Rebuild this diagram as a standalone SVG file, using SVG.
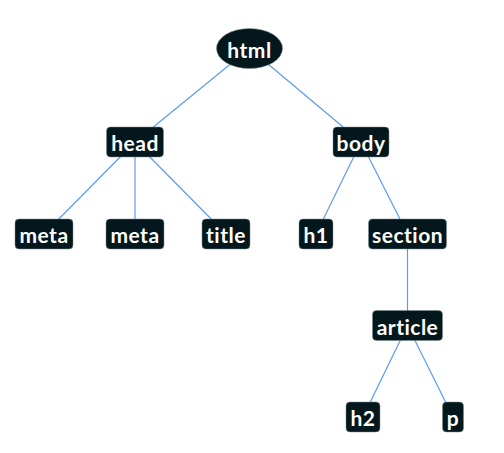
<svg xmlns="http://www.w3.org/2000/svg" width="504" height="453" viewBox="0 0 504 453">
<style>
.e{stroke:#5b9bf0;stroke-width:1.2;fill:none}
.n{fill:#03171c;stroke:#7a8a8e;stroke-width:0.5}
.t{fill:#ffffff;font-family:Lato,"Noto Sans",sans-serif;font-weight:bold;font-size:21px;letter-spacing:0.5px;font-variant-ligatures:none;text-anchor:middle;dominant-baseline:central}
</style>
<rect width="504" height="453" fill="#ffffff"/>
<g id="connectors">
<line class="e" x1="249.5" y1="48.5" x2="135" y2="142"/>
<line class="e" x1="249.5" y1="48.5" x2="361" y2="142"/>
<line class="e" x1="135" y1="142" x2="44" y2="234"/>
<line class="e" x1="135" y1="142" x2="135" y2="234"/>
<line class="e" x1="135" y1="142" x2="226" y2="234"/>
<line class="e" x1="361" y1="142" x2="316" y2="234"/>
<line class="e" x1="361" y1="142" x2="407.5" y2="234"/>
<line class="e" x1="407.5" y1="234" x2="407.5" y2="325.5"/>
<line class="e" x1="407.5" y1="325.5" x2="363" y2="417"/>
<line class="e" x1="407.5" y1="325.5" x2="453" y2="417"/>
</g>
<g id="html"><ellipse class="n" cx="249.5" cy="48.5" rx="33" ry="20"/><text class="t" x="249.5" y="49">html</text></g>
<g id="head"><rect class="n" x="106.5" y="127" width="57" height="30" rx="4"/><text class="t" x="135" y="142.5">head</text></g>
<g id="body"><rect class="n" x="333" y="127" width="56" height="30" rx="4"/><text class="t" x="361" y="142.5">body</text></g>
<g id="meta1"><rect class="n" x="15" y="219" width="58" height="30" rx="4"/><text class="t" x="44" y="234.5">meta</text></g>
<g id="meta2"><rect class="n" x="106" y="219" width="58" height="30" rx="4"/><text class="t" x="135" y="234.5">meta</text></g>
<g id="title"><rect class="n" x="202" y="219" width="48" height="30" rx="4"/><text class="t" x="226" y="234.5">title</text></g>
<g id="h1"><rect class="n" x="299" y="219" width="34" height="30" rx="4"/><text class="t" x="316" y="234.5">h1</text></g>
<g id="section"><rect class="n" x="368.5" y="219" width="78" height="30" rx="4"/><text class="t" x="407.5" y="234.5">section</text></g>
<g id="article"><rect class="n" x="372.5" y="310.5" width="70" height="30" rx="4"/><text class="t" x="407.5" y="326">article</text></g>
<g id="h2"><rect class="n" x="346" y="402" width="34" height="30" rx="4"/><text class="t" x="363" y="417.5">h2</text></g>
<g id="p"><rect class="n" x="442.5" y="402" width="21" height="30" rx="4"/><text class="t" x="453" y="417.5">p</text></g>
</svg>
